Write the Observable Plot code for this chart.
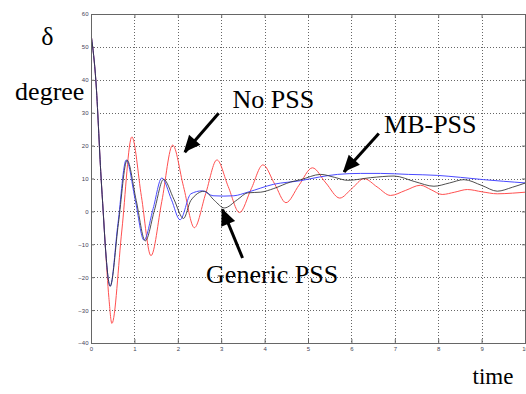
<!DOCTYPE html>
<html><head><meta charset="utf-8">
<script src="https://cdn.jsdelivr.net/npm/d3@7"></script>
<script src="https://cdn.jsdelivr.net/npm/@observablehq/plot@0.6"></script>
<style>body{margin:0;background:#fff}</style>
</head><body><div id="chart"></div>
<script>
// Series data (time in s, rotor angle δ in degrees)
const noPssT = [0,0.1,0.22,0.27,0.32,0.4,0.47,0.7,0.93,1.15,1.37,1.62,1.87,2.12,2.37,2.63,2.89,3.15,3.41,3.68,3.95,4.22,4.48,4.78,5.09,5.4,5.72,6.0,6.28,6.58,6.89,7.23,7.58,7.83,8.08,8.37,8.66,9.0,9.35,9.7,10];
const noPssV = [53,40,10.6,0,-10.7,-26,-33.9,-5.5,22.8,4.7,-13.3,3.2,20.3,7.7,-4.8,5.5,15.8,7.7,-0.2,7,14.3,8.5,2.8,8.1,13.4,8.8,4.2,7.1,10.1,7.6,5.0,6.5,8.1,6.7,5.3,6,6.8,6.1,5.5,5.7,6.0];

const genericT = [0,0.1,0.22,0.27,0.32,0.43,0.62,0.82,1.03,1.24,1.45,1.66,1.9,2.12,2.29,2.6,2.83,3.06,3.36,3.6,3.9,4.2,4.59,4.82,5.28,5.6,5.9,6.43,6.97,7.45,7.89,8.25,8.58,9.0,9.35,9.7,10];
const genericV = [53,40,10.6,0,-10.7,-22.6,-3.5,15.7,3.5,-8.8,0.5,9.9,3.8,-2,3.5,6.3,3.5,1.2,3.7,5.8,6,7.1,9.1,9.8,11.4,10.5,9.6,10.4,10.9,9.2,7.8,8.8,9.8,8,6.3,7.5,8.8];

const mbT = [0,0.1,0.22,0.27,0.32,0.43,0.61,0.8,1.01,1.21,1.42,1.62,1.84,2.04,2.29,2.55,2.8,3.05,3.28,3.6,4.2,4.82,5.25,5.67,6.2,6.66,7.3,7.97,8.5,9.04,9.5,10];
const mbV = [53,40,10.6,0,-10.7,-22.6,-3.5,15.8,3.5,-8.6,1,10.3,3.8,-2.4,5.5,6.4,4.9,4.8,4.9,6,8.4,9.5,10.6,11.4,11.7,11.7,11.4,11.1,10.5,9.8,9.3,8.8];

const seriesNames = ["No PSS", "MB-PSS", "Generic PSS"];
const seriesColors = ["#ff5050", "#4a4aff", "#303030"];

const xTicks = [0,1,2,3,4,5,6,7,8,9,10];
const yTicks = [-40,-30,-20,-10,0,10,20,30,40,50,60];

// Annotations (label position and arrow tail/tip, in data units)
const annLabels = ["No PSS", "MB-PSS", "Generic PSS"];
const annLabelX = [3.25, 6.74, 2.64];
const annLabelY = [31.5, 24.0, -21.7];
const annTailX = [2.93, 6.62, 3.48];
const annTailY = [30.0, 23.8, -14.0];
const annTipX = [2.15, 5.82, 3.02];
const annTipY = [18.1, 12.1, 0.7];

// Axis captions
const axisTexts = ["δ", "degree", "time"];
const axisTextX = [-1.16, -1.76, 8.78];
const axisTextY = [50.8, 34.0, -52.2];
const axisTextSize = [26, 26, 23];

const rows = [];
[[noPssT, noPssV], [mbT, mbV], [genericT, genericV]].forEach(([T, V], i) => {
  T.forEach((t, j) => rows.push({series: seriesNames[i], t, v: V[j]}));
});
const drawOrder = ["No PSS", "MB-PSS", "Generic PSS"];
const ann = annLabels.map((l, i) => ({label: l, lx: annLabelX[i], ly: annLabelY[i], x1: annTailX[i], y1: annTailY[i], x2: annTipX[i], y2: annTipY[i]}));
const caps = axisTexts.map((s, i) => ({s, x: axisTextX[i], y: axisTextY[i], size: axisTextSize[i]}));

const tickFont = {fontFamily: "Liberation Sans", fontSize: 6};
const gridStyle = {stroke: "#666", strokeOpacity: 1, strokeWidth: 1, strokeDasharray: "1,2", shapeRendering: "crispEdges"};
const innerX = xTicks.slice(1, -1), innerY = yTicks.slice(1, -1);
const plot = Plot.plot({
  width: 526, height: 394,
  marginLeft: 91, marginRight: 1, marginTop: 14, marginBottom: 51,
  style: {background: "#fff", fontFamily: "Liberation Sans", fontSize: "6px", overflow: "visible"},
  x: {domain: [0, 10], label: null},
  y: {domain: [-40, 60], label: null},
  color: {domain: seriesNames, range: seriesColors},
  marks: [
    Plot.gridX(innerX, gridStyle),
    Plot.gridY(innerY, gridStyle),
    Plot.axisX(xTicks, {anchor: "bottom", tickSize: 0, tickPadding: 3, fill: "#445", label: null, ...tickFont}),
    Plot.axisY(yTicks, {anchor: "left", tickSize: 0, tickPadding: 3, fill: "#445", label: null, ...tickFont}),
    Plot.ruleX(innerX, {x: d => d, y1: -40, y2: -38.8, stroke: "#666"}),
    Plot.ruleX(innerX, {x: d => d, y1: 60, y2: 58.8, stroke: "#666"}),
    Plot.ruleY(innerY, {y: d => d, x1: 0, x2: 0.07, stroke: "#666"}),
    Plot.ruleY(innerY, {y: d => d, x1: 10, x2: 9.93, stroke: "#666"}),
    ...drawOrder.map(name => Plot.line(rows.filter(r => r.series === name), {x: "t", y: "v", stroke: "series", strokeWidth: 1, strokeOpacity: name === "Generic PSS" ? 0.85 : 1, curve: "monotone-x"})),
    Plot.frame({stroke: "#666", strokeWidth: 1}),
    Plot.link(ann, {x1: "x1", y1: "y1", x2: "x2", y2: "y2", stroke: "black", strokeWidth: 3}),
    Plot.text(ann, {x: "lx", y: "ly", text: "label", textAnchor: "start", lineAnchor: "bottom", fontFamily: "Liberation Serif", fontSize: 26, fill: "black"}),
    Plot.text(caps, {x: "x", y: "y", text: "s", textAnchor: "start", lineAnchor: "bottom", fontFamily: "Liberation Serif", fontSize: "size", fill: "black"})
  ]
});

// filled arrowheads placed through the plot's own scales
const sx = plot.scale("x"), sy = plot.scale("y");
const g = d3.select(plot).append("g").attr("fill", "black");
ann.forEach(a => {
  const x1 = sx.apply(a.x1), y1 = sy.apply(a.y1), x2 = sx.apply(a.x2), y2 = sy.apply(a.y2);
  const dx = x2 - x1, dy = y2 - y1, L = Math.hypot(dx, dy), ux = dx / L, uy = dy / L;
  const hl = 16, hw = 7.5;
  const bx = x2 - ux * hl, by = y2 - uy * hl;
  g.append("polygon").attr("points", [[x2 + ux, y2 + uy], [bx - uy * hw, by + ux * hw], [bx + uy * hw, by - ux * hw]].map(p => p.join(",")).join(" "));
});

document.getElementById("chart").appendChild(plot);
</script>
</body></html>
